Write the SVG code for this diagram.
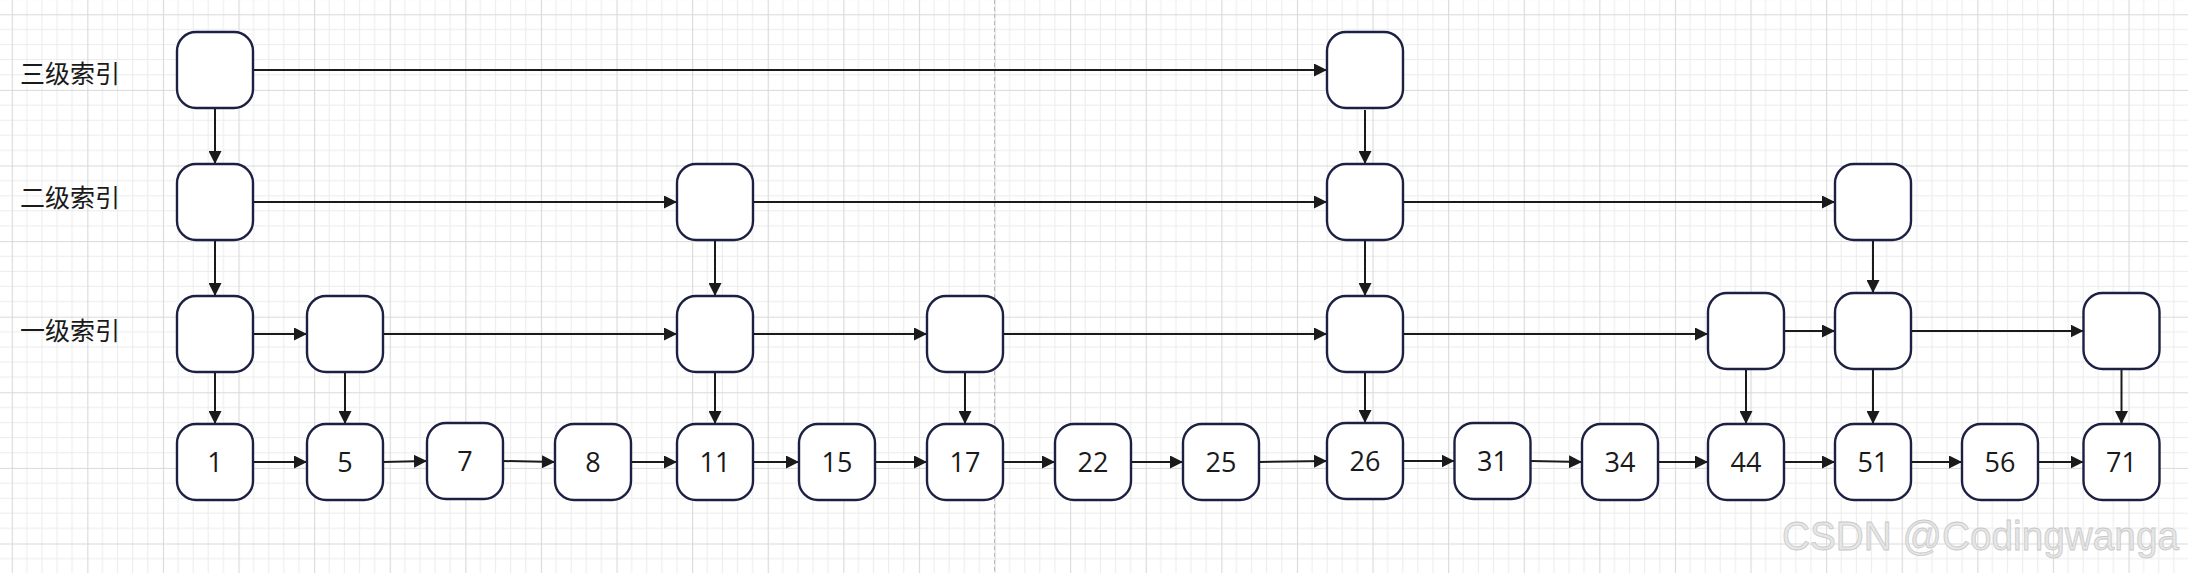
<svg xmlns="http://www.w3.org/2000/svg" width="2188" height="573" viewBox="0 0 2188 573">
<defs>
<style>
.box{fill:#ffffff;stroke:#1c2143;stroke-width:2.4}
.num{font-family:"Open Sans","Liberation Sans",sans-serif;font-size:27px;fill:#1a1a1a;text-anchor:middle}
.lbl{font-family:"Noto Sans CJK SC",sans-serif;font-size:25px;fill:#1a1a1a}
.c{fill:none;stroke:#1a1a1a;stroke-width:2;marker-end:url(#ah)}
.mg{stroke:#ececec;stroke-width:1}
.Mg{stroke:#d9d9d9;stroke-width:1.2}
</style>
<marker id="ah" markerUnits="userSpaceOnUse" markerWidth="13" markerHeight="13" viewBox="0 0 12 12" refX="12" refY="6" orient="auto">
<path d="M0,0 L12,6 L0,12 z" fill="#1a1a1a"/>
</marker>
<pattern id="grid" patternUnits="userSpaceOnUse" x="11.7" y="14.3" width="75.6" height="75.6">
<path class="mg" d="M15.12,0 V75.6 M30.24,0 V75.6 M45.36,0 V75.6 M60.48,0 V75.6 M0,15.12 H75.6 M0,30.24 H75.6 M0,45.36 H75.6 M0,60.48 H75.6"/>
<path class="Mg" d="M0.5,0 V75.6 M0,0.5 H75.6"/>
</pattern>
</defs>
<rect width="2188" height="573" fill="#ffffff"/>
<rect width="2188" height="573" fill="url(#grid)"/>
<line x1="994.5" y1="0" x2="994.5" y2="573" stroke="#b8b8b8" stroke-width="1" stroke-dasharray="4 3"/>

<g id="labels">
<text class="lbl" x="20" y="83">三级索引</text>
<text class="lbl" x="20" y="206.5">二级索引</text>
<text class="lbl" x="20" y="339.5">一级索引</text>
</g>

<g id="connectors">
<!-- row 3 -->
<path class="c" d="M253,70 H1327"/>
<!-- row 2 -->
<path class="c" d="M253,202 H677"/>
<path class="c" d="M753,202 H1327"/>
<path class="c" d="M1403,202 H1835"/>
<!-- row 1 -->
<path class="c" d="M253,334 H307"/>
<path class="c" d="M383,334 H677"/>
<path class="c" d="M753,334 H927"/>
<path class="c" d="M1003,334 H1327"/>
<path class="c" d="M1403,334 H1708"/>
<path class="c" d="M1784,331 H1835"/>
<path class="c" d="M1911,331 H2083.5"/>
<!-- row 0 -->
<path class="c" d="M253,462 H307"/>
<path class="c" d="M383,462 L427,461"/>
<path class="c" d="M503,461 L555,462"/>
<path class="c" d="M631,462 H677"/>
<path class="c" d="M753,462 H799"/>
<path class="c" d="M875,462 H927"/>
<path class="c" d="M1003,462 H1055"/>
<path class="c" d="M1131,462 H1183"/>
<path class="c" d="M1259,462 L1327,461"/>
<path class="c" d="M1403,461 H1454.5"/>
<path class="c" d="M1530.5,461 L1582,462"/>
<path class="c" d="M1658,462 H1708"/>
<path class="c" d="M1784,462 H1835"/>
<path class="c" d="M1911,462 H1962"/>
<path class="c" d="M2038,462 H2083.5"/>
<!-- vertical 3->2 -->
<path class="c" d="M215,108 V164"/>
<path class="c" d="M1365,110 V164"/>
<!-- vertical 2->1 -->
<path class="c" d="M215,240 V296"/>
<path class="c" d="M715,240 V296"/>
<path class="c" d="M1365,240 V296"/>
<path class="c" d="M1873,240 V293"/>
<!-- vertical 1->0 -->
<path class="c" d="M215,372 V424"/>
<path class="c" d="M345,372 V424"/>
<path class="c" d="M715,372 V424"/>
<path class="c" d="M965,372 V424"/>
<path class="c" d="M1365,372 V423"/>
<path class="c" d="M1746,369 V424"/>
<path class="c" d="M1873,369 V424"/>
<path class="c" d="M2121.5,369 V424"/>
</g>

<!-- level 3 -->
<g id="l3-a"><rect class="box" x="177" y="32" width="76" height="76" rx="19"/></g>
<g id="l3-b"><rect class="box" x="1327" y="32" width="76" height="76" rx="19"/></g>
<!-- level 2 -->
<g id="l2-a"><rect class="box" x="177" y="164" width="76" height="76" rx="19"/></g>
<g id="l2-b"><rect class="box" x="677" y="164" width="76" height="76" rx="19"/></g>
<g id="l2-c"><rect class="box" x="1327" y="164" width="76" height="76" rx="19"/></g>
<g id="l2-d"><rect class="box" x="1835" y="164" width="76" height="76" rx="19"/></g>
<!-- level 1 -->
<g id="l1-a"><rect class="box" x="177" y="296" width="76" height="76" rx="19"/></g>
<g id="l1-b"><rect class="box" x="307" y="296" width="76" height="76" rx="19"/></g>
<g id="l1-c"><rect class="box" x="677" y="296" width="76" height="76" rx="19"/></g>
<g id="l1-d"><rect class="box" x="927" y="296" width="76" height="76" rx="19"/></g>
<g id="l1-e"><rect class="box" x="1327" y="296" width="76" height="76" rx="19"/></g>
<g id="l1-f"><rect class="box" x="1708" y="293" width="76" height="76" rx="19"/></g>
<g id="l1-g"><rect class="box" x="1835" y="293" width="76" height="76" rx="19"/></g>
<g id="l1-h"><rect class="box" x="2083.5" y="293" width="76" height="76" rx="19"/></g>
<!-- base level -->
<g id="n1"><rect class="box" x="177" y="424" width="76" height="76" rx="19"/><text class="num" x="215" y="472">1</text></g>
<g id="n5"><rect class="box" x="307" y="424" width="76" height="76" rx="19"/><text class="num" x="345" y="472">5</text></g>
<g id="n7"><rect class="box" x="427" y="423" width="76" height="76" rx="19"/><text class="num" x="465" y="471">7</text></g>
<g id="n8"><rect class="box" x="555" y="424" width="76" height="76" rx="19"/><text class="num" x="593" y="472">8</text></g>
<g id="n11"><rect class="box" x="677" y="424" width="76" height="76" rx="19"/><text class="num" x="715" y="472">11</text></g>
<g id="n15"><rect class="box" x="799" y="424" width="76" height="76" rx="19"/><text class="num" x="837" y="472">15</text></g>
<g id="n17"><rect class="box" x="927" y="424" width="76" height="76" rx="19"/><text class="num" x="965" y="472">17</text></g>
<g id="n22"><rect class="box" x="1055" y="424" width="76" height="76" rx="19"/><text class="num" x="1093" y="472">22</text></g>
<g id="n25"><rect class="box" x="1183" y="424" width="76" height="76" rx="19"/><text class="num" x="1221" y="472">25</text></g>
<g id="n26"><rect class="box" x="1327" y="423" width="76" height="76" rx="19"/><text class="num" x="1365" y="471">26</text></g>
<g id="n31"><rect class="box" x="1454.5" y="423" width="76" height="76" rx="19"/><text class="num" x="1492.5" y="471">31</text></g>
<g id="n34"><rect class="box" x="1582" y="424" width="76" height="76" rx="19"/><text class="num" x="1620" y="472">34</text></g>
<g id="n44"><rect class="box" x="1708" y="424" width="76" height="76" rx="19"/><text class="num" x="1746" y="472">44</text></g>
<g id="n51"><rect class="box" x="1835" y="424" width="76" height="76" rx="19"/><text class="num" x="1873" y="472">51</text></g>
<g id="n56"><rect class="box" x="1962" y="424" width="76" height="76" rx="19"/><text class="num" x="2000" y="472">56</text></g>
<g id="n71"><rect class="box" x="2083.5" y="424" width="76" height="76" rx="19"/><text class="num" x="2121.5" y="472">71</text></g>

<text x="1782" y="550" font-family="'Liberation Sans',Arial,sans-serif" font-size="40" textLength="397" lengthAdjust="spacingAndGlyphs" fill="#e6e6e6" stroke="#c9c9c9" stroke-width="0.8">CSDN @Codingwanga</text>
</svg>
